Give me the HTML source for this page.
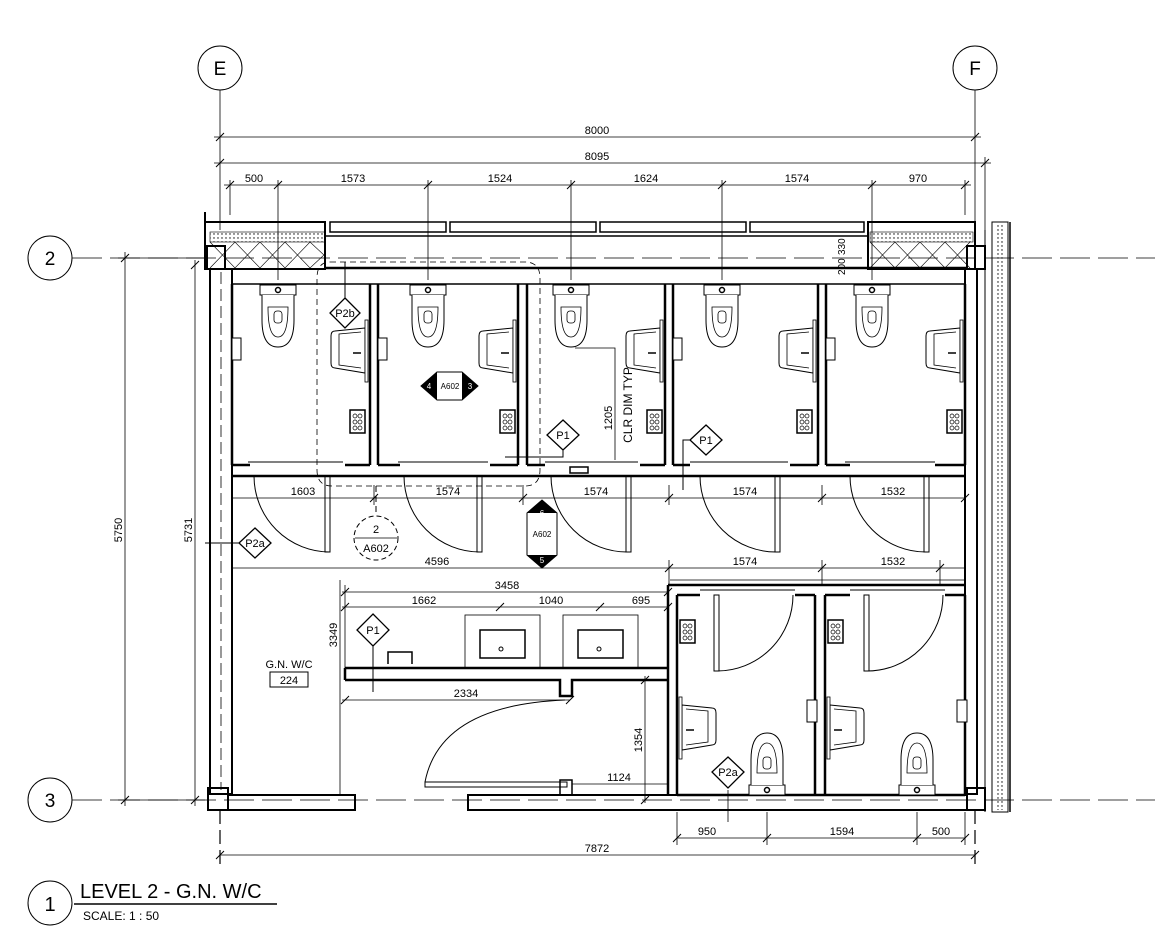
<!DOCTYPE html>
<html><head><meta charset="utf-8"><style>
html,body{margin:0;padding:0;background:#fff}
svg{display:block}
text{font-family:"Liberation Sans",sans-serif;fill:#000}
</style></head><body>
<svg width="1155" height="940" viewBox="0 0 1155 940" xmlns="http://www.w3.org/2000/svg">
<defs>
<pattern id="dots" width="4" height="4" patternUnits="userSpaceOnUse"><circle cx="2" cy="2" r="0.7" fill="#000"/></pattern>
<g id="wc">
 <rect x="-18" y="0" width="36" height="10" fill="#fff" stroke="#000"/>
 <path d="M-16 10 L-16 35 Q-16 62 0 62 Q16 62 16 35 L16 10" fill="#fff" stroke="#000"/>
 <path d="M-10 22 Q-10 52 0 52 Q10 52 10 22 Z" fill="none" stroke="#000" stroke-width="0.8"/>
 <rect x="-4" y="26" width="8" height="12" rx="3" fill="none" stroke="#000" stroke-width="0.8"/>
 <circle cx="0" cy="5" r="2.5" fill="none" stroke="#000" stroke-width="1.5"/>
</g>
<g id="basin">
 <path d="M0 0 L-30 3 Q-34 3 -34 8 L-34 35 Q-34 40 -30 40 L0 45 Z" fill="#fff" stroke="#000"/>
 <path d="M-4 4 L-26 6 L-26 37 L-4 40" fill="none" stroke="#000" stroke-width="0.8"/>
 <rect x="0" y="-8" width="3" height="62" fill="#fff" stroke="#000" stroke-width="0.8"/>
 <line x1="-12" y1="25" x2="-4" y2="25" stroke="#000" stroke-width="1.5"/>
</g>
<g id="disp">
 <rect x="0" y="0" width="15" height="23" fill="#fff" stroke="#000" stroke-width="1.5"/>
 <circle cx="5" cy="6" r="2" fill="none" stroke="#000" stroke-width="0.7"/><circle cx="10" cy="6" r="2" fill="none" stroke="#000" stroke-width="0.7"/>
 <circle cx="5" cy="12" r="2" fill="none" stroke="#000" stroke-width="0.7"/><circle cx="10" cy="12" r="2" fill="none" stroke="#000" stroke-width="0.7"/>
 <circle cx="5" cy="18" r="2" fill="none" stroke="#000" stroke-width="0.7"/><circle cx="10" cy="18" r="2" fill="none" stroke="#000" stroke-width="0.7"/>
</g>
<g id="tk"><line x1="-4" y1="4" x2="4" y2="-4" stroke="#000"/></g>
</defs>

<g fill="none" stroke="#000">
<circle cx="220" cy="68" r="22"/><circle cx="975" cy="68" r="22"/>
<circle cx="50" cy="258" r="22"/><circle cx="50" cy="800" r="22"/>
<line x1="220" y1="90" x2="220" y2="230" stroke-width="0.8"/>
<line x1="975" y1="90" x2="975" y2="230" stroke-width="0.8"/>
<line x1="220" y1="810" x2="220" y2="870" stroke-width="1.2" stroke-dasharray="14,6"/>
<line x1="975" y1="810" x2="975" y2="870" stroke-width="1.2" stroke-dasharray="14,6"/>
<line x1="72" y1="258" x2="1155" y2="258" stroke-width="0.8" stroke-dasharray="30,8"/>
<line x1="72" y1="800" x2="1155" y2="800" stroke-width="0.8" stroke-dasharray="30,8"/>

<g stroke-width="0.8">
<line x1="214" y1="137" x2="981" y2="137"/>
<line x1="214" y1="163" x2="991" y2="163"/>
<line x1="224" y1="185" x2="971" y2="185"/>
<line x1="230" y1="180" x2="230" y2="215"/><line x1="278" y1="180" x2="278" y2="280"/>
<line x1="428" y1="180" x2="428" y2="280"/><line x1="571" y1="180" x2="571" y2="280"/>
<line x1="722" y1="180" x2="722" y2="280"/><line x1="872" y1="180" x2="872" y2="280"/>
<line x1="965" y1="180" x2="965" y2="215"/><line x1="985" y1="157" x2="985" y2="260"/>
</g>
<use href="#tk" x="220" y="137"/><use href="#tk" x="975" y="137"/>
<use href="#tk" x="220" y="163"/><use href="#tk" x="985" y="163"/>
<use href="#tk" x="230" y="185"/><use href="#tk" x="278" y="185"/><use href="#tk" x="428" y="185"/><use href="#tk" x="571" y="185"/><use href="#tk" x="722" y="185"/><use href="#tk" x="872" y="185"/><use href="#tk" x="965" y="185"/>

<g stroke-width="0.8">
<line x1="125" y1="252" x2="125" y2="806"/>
<line x1="195" y1="260" x2="195" y2="806"/>
<line x1="118" y1="258" x2="205" y2="258"/>
<line x1="118" y1="800" x2="205" y2="800"/>
</g>
<use href="#tk" x="125" y="258"/><use href="#tk" x="125" y="800"/><use href="#tk" x="195" y="265"/><use href="#tk" x="195" y="800"/>

<rect x="205" y="222" width="120" height="47" stroke-width="2"/>
<rect x="210" y="232" width="115" height="10" fill="url(#dots)" stroke-width="0.6"/>
<path d="M210 242 L235 268 L260 242 L285 268 L310 242 L325 256 M210 268 L235 242 L260 268 L285 242 L310 268 L325 254" stroke-width="0.6"/>
<rect x="207" y="246" width="18" height="23" stroke-width="2"/>
<rect x="868" y="222" width="107" height="47" stroke-width="2"/>
<rect x="870" y="232" width="103" height="10" fill="url(#dots)" stroke-width="0.6"/>
<path d="M870 242 L895 268 L920 242 L945 268 L970 242 M870 268 L895 242 L920 268 L945 242 L970 268" stroke-width="0.6"/>
<rect x="967" y="246" width="18" height="23" stroke-width="2"/>
<g stroke-width="1.5">
<rect x="330" y="222" width="116" height="10"/><rect x="450" y="222" width="146" height="10"/>
<rect x="600" y="222" width="146" height="10"/><rect x="750" y="222" width="114" height="10"/>
</g>
<line x1="325" y1="236" x2="868" y2="236" stroke-width="1.5"/>
<line x1="325" y1="268" x2="967" y2="268" stroke-width="2.5"/>
<line x1="232" y1="284" x2="965" y2="284" stroke-width="1.5"/>
<line x1="205" y1="212" x2="205" y2="269" stroke-width="2"/>

<rect x="210" y="269" width="22" height="525" stroke-width="2"/>
<line x1="221" y1="272" x2="221" y2="790" stroke-width="0.8" stroke-dasharray="12,5"/>
<rect x="208" y="788" width="20" height="22" stroke-width="2"/>
<rect x="965" y="269" width="12" height="525" stroke-width="2"/>
<line x1="985" y1="230" x2="985" y2="812" stroke-width="1"/>
<rect x="992" y="222" width="16" height="590" stroke-width="1"/>
<rect x="995" y="224" width="10" height="586" fill="url(#dots)" stroke="none"/>
<line x1="1010" y1="222" x2="1010" y2="812" stroke-width="1.5"/>
<rect x="967" y="788" width="18" height="22" stroke-width="2"/>
<rect x="228" y="795" width="127" height="15" stroke-width="2"/>
<rect x="468" y="795" width="499" height="15" stroke-width="2"/>

<g stroke-width="2.5">
<line x1="232" y1="284" x2="232" y2="465"/>
<path d="M370 284 V465 M378 284 V465"/>
<path d="M518 284 V465 M527 284 V465"/>
<path d="M665 284 V465 M673 284 V465"/>
<path d="M818 284 V465 M826 284 V465"/>
<line x1="965" y1="284" x2="965" y2="465"/>
<path d="M232 465 H250 M345 465 H370 M378 465 H400 M490 465 H518 M527 465 H545 M640 465 H665 M673 465 H690 M790 465 H818 M826 465 H850 M935 465 H965"/>
</g>
<line x1="232" y1="476" x2="965" y2="476" stroke-width="2.5"/>
<path d="M248 462 H343 M398 462 H488 M545 462 H638 M690 462 H788 M845 462 H935" stroke-width="1"/>
<g stroke-width="1">
<rect x="325" y="476" width="5" height="76"/><path d="M254 476 A76 76 0 0 0 330 552"/>
<rect x="477" y="476" width="5" height="76"/><path d="M404 476 A76 76 0 0 0 480 552"/>
<rect x="626" y="476" width="5" height="76"/><path d="M551 476 A76 76 0 0 0 628 552"/>
<rect x="775" y="476" width="5" height="76"/><path d="M700 476 A76 76 0 0 0 777 552"/>
<rect x="924" y="476" width="5" height="76"/><path d="M850 476 A76 76 0 0 0 926 552"/>
</g>
<rect x="570" y="467" width="18" height="6" stroke-width="1.5"/>
</g>

<use href="#wc" x="278" y="285"/><use href="#wc" x="428" y="285"/><use href="#wc" x="571" y="285"/><use href="#wc" x="722" y="285"/><use href="#wc" x="872" y="285"/>
<use href="#basin" x="365" y="328"/><use href="#basin" x="513" y="328"/><use href="#basin" x="660" y="328"/><use href="#basin" x="813" y="328"/><use href="#basin" x="960" y="328"/>
<use href="#disp" x="350" y="410"/><use href="#disp" x="500" y="410"/><use href="#disp" x="647" y="410"/><use href="#disp" x="797" y="410"/><use href="#disp" x="947" y="410"/>
<g fill="#fff" stroke="#000"><rect x="232" y="338" width="9" height="22"/><rect x="378" y="338" width="9" height="22"/><rect x="673" y="338" width="9" height="22"/><rect x="826" y="338" width="9" height="22"/></g>

<g fill="none" stroke="#000" stroke-width="0.8">
<line x1="232" y1="498" x2="965" y2="498"/>
<line x1="232" y1="568" x2="965" y2="568"/>
<line x1="670" y1="580" x2="965" y2="580"/>
<path d="M374 485 V505 M523 485 V505 M669 485 V505 M822 485 V505 M669 560 V585 M822 560 V585 M940 560 V585"/>
</g>
<use href="#tk" x="374" y="498"/><use href="#tk" x="523" y="498"/><use href="#tk" x="669" y="498"/><use href="#tk" x="822" y="498"/><use href="#tk" x="965" y="498"/>
<use href="#tk" x="669" y="568"/><use href="#tk" x="822" y="568"/><use href="#tk" x="940" y="568"/>

<path d="M330 262 H525 Q540 262 540 278 V470 Q540 486 525 486 H332 Q317 486 317 470 V278 Q317 262 330 262 Z" fill="none" stroke="#000" stroke-width="0.8" stroke-dasharray="6,4"/>
<circle cx="376" cy="538" r="22" fill="none" stroke="#000" stroke-dasharray="5,3"/>
<line x1="355" y1="538" x2="397" y2="538" stroke="#000" stroke-width="0.8"/>
<line x1="376" y1="486" x2="376" y2="516" stroke="#000" stroke-dasharray="6,4"/>

<g fill="none" stroke="#000">
<g stroke-width="2.5">
<path d="M668 585 V795 M677 595 V795 M815 595 V795 M825 595 V795 M965 595 V795"/>
<path d="M668 585 H965 M677 595 H700 M795 595 H815 M825 595 H850 M945 595 H965 M677 795 H965"/>
</g>
<path d="M700 590 H795 M850 590 H945" stroke-width="1"/>
<rect x="714" y="595" width="5" height="76" stroke-width="1"/><path d="M717 671 A76 76 0 0 0 793 595" stroke-width="1"/>
<rect x="864" y="595" width="5" height="76" stroke-width="1"/><path d="M867 671 A76 76 0 0 0 943 595" stroke-width="1"/>
<rect x="957" y="700" width="10" height="22" fill="#fff"/><rect x="807" y="700" width="10" height="22" fill="#fff"/>
</g>
<use href="#disp" x="680" y="620"/><use href="#disp" x="828" y="620"/>
<use href="#wc" transform="translate(767,795) scale(1,-1)"/><use href="#wc" transform="translate(917,795) scale(1,-1)"/>
<use href="#basin" transform="translate(682,705) scale(-1,1)"/><use href="#basin" transform="translate(830,705) scale(-1,1)"/>

<g fill="none" stroke="#000">
<path d="M345 668 H668 M345 680 H560 V696 H572 V680 H668 M345 668 V680" stroke-width="2.5"/>
<rect x="465" y="615" width="75" height="53" stroke-width="0.8"/><rect x="480" y="630" width="45" height="28" stroke-width="1.5"/>
<rect x="563" y="615" width="75" height="53" stroke-width="0.8"/><rect x="578" y="630" width="45" height="28" stroke-width="1.5"/>
<circle cx="501" cy="649" r="2"/><circle cx="599" cy="649" r="2"/>
<path d="M388 664 V652 H412 V664" stroke-width="1.5"/>
<path d="M425 787 H567 V782 H425 Z" stroke-width="1"/>
<path d="M565 700 Q440 705 425 782" stroke-width="1"/>
<rect x="560" y="780" width="12" height="15" stroke-width="1.5"/>
<g stroke-width="0.8">
<line x1="342" y1="592" x2="668" y2="592"/>
<line x1="342" y1="607" x2="668" y2="607"/>
<line x1="342" y1="700" x2="570" y2="700"/>
<line x1="345" y1="585" x2="345" y2="668"/>
<line x1="340" y1="580" x2="340" y2="795"/>
<line x1="572" y1="784" x2="668" y2="784"/>
<line x1="645" y1="676" x2="645" y2="803"/>
<line x1="220" y1="855" x2="975" y2="855"/>
<line x1="677" y1="838" x2="965" y2="838"/>
<path d="M677 812 V845 M767 812 V845 M917 812 V845 M965 812 V845"/>
<line x1="728" y1="790" x2="728" y2="822"/>
</g>
</g>
<use href="#tk" x="345" y="592"/><use href="#tk" x="668" y="592"/><use href="#tk" x="345" y="607"/><use href="#tk" x="500" y="607"/><use href="#tk" x="600" y="607"/><use href="#tk" x="668" y="607"/>
<use href="#tk" x="345" y="700"/><use href="#tk" x="570" y="700"/><use href="#tk" x="645" y="680"/><use href="#tk" x="645" y="800"/>
<use href="#tk" x="220" y="855"/><use href="#tk" x="975" y="855"/>
<use href="#tk" x="677" y="838"/><use href="#tk" x="767" y="838"/><use href="#tk" x="917" y="838"/><use href="#tk" x="965" y="838"/>

<g fill="#fff" stroke="#000" stroke-width="1.3">
<path d="M345 298 L360 313 L345 328 L330 313 Z"/>
<path d="M373 614 L389 630 L373 646 L357 630 Z"/>
<path d="M563 420 L579 435 L563 450 L547 435 Z"/>
<path d="M706 425 L722 440 L706 455 L690 440 Z"/>
<path d="M255 528 L271 543 L255 558 L239 543 Z"/>
<path d="M728 757 L744 772 L728 788 L712 772 Z"/>
</g>
<g fill="none" stroke="#000" stroke-width="1">
<path d="M345 262 V298"/><path d="M373 646 V692"/>
<path d="M563 450 V457 H505"/><path d="M690 440 H683 V490"/>
<path d="M205 543 H239"/>
<path d="M575 348 H615 V460" stroke-width="0.8"/>
</g>
<path d="M437 372 H462 L478 386 L462 400 H437 L421 386 Z" fill="#fff" stroke="#000"/>
<path d="M437 372 V400 L421 386 Z M462 372 V400 L478 386 Z" fill="#000"/>
<path d="M527 513 L542 500 L557 513 V555 L542 568 L527 555 Z" fill="#fff" stroke="#000"/>
<path d="M527 513 L542 500 L557 513 Z M527 555 L542 568 L557 555 Z" fill="#000"/>
<rect x="270" y="672" width="38" height="15" fill="none" stroke="#000"/>

<g font-size="13" text-anchor="middle">
<text x="220" y="75" font-size="19">E</text><text x="975" y="75" font-size="19">F</text>
<text x="50" y="265" font-size="19">2</text><text x="50" y="807" font-size="19">3</text>
</g>
<g font-size="11" text-anchor="middle">
<text x="597" y="134">8000</text><text x="597" y="160">8095</text>
<text x="254" y="182">500</text><text x="353" y="182">1573</text><text x="500" y="182">1524</text>
<text x="646" y="182">1624</text><text x="797" y="182">1574</text><text x="918" y="182">970</text>
<text x="303" y="495">1603</text><text x="448" y="495">1574</text><text x="596" y="495">1574</text>
<text x="745" y="495">1574</text><text x="893" y="495">1532</text>
<text x="437" y="565">4596</text><text x="745" y="565">1574</text><text x="893" y="565">1532</text>
<text x="507" y="589">3458</text><text x="424" y="604">1662</text><text x="551" y="604">1040</text><text x="641" y="604">695</text>
<text x="466" y="697">2334</text><text x="619" y="781">1124</text>
<text x="707" y="835">950</text><text x="842" y="835">1594</text><text x="941" y="835">500</text>
<text x="597" y="852">7872</text>
<text x="289" y="668">G.N. W/C</text><text x="289" y="684">224</text>
<text x="345" y="317">P2b</text><text x="373" y="634">P1</text><text x="563" y="439">P1</text>
<text x="706" y="444">P1</text><text x="255" y="547">P2a</text><text x="728" y="776">P2a</text>
<text x="376" y="533">2</text><text x="376" y="552">A602</text>
</g>
<g font-size="8" text-anchor="middle"><text x="450" y="389">A602</text><text x="542" y="537">A602</text>
<text x="429" y="389" style="fill:#fff">4</text><text x="470" y="389" style="fill:#fff">3</text>
<text x="542" y="516" style="fill:#fff">6</text><text x="542" y="563" style="fill:#fff">5</text></g>
<g font-size="11">
<text transform="translate(122,530) rotate(-90)" text-anchor="middle">5750</text>
<text transform="translate(192,530) rotate(-90)" text-anchor="middle">5731</text>
<text transform="translate(337,635) rotate(-90)" text-anchor="middle">3349</text>
<text transform="translate(642,740) rotate(-90)" text-anchor="middle">1354</text>
<text transform="translate(612,418) rotate(-90)" text-anchor="middle">1205</text>
<text transform="translate(632,405) rotate(-90)" text-anchor="middle" font-size="12">CLR DIM TYP</text>
<text transform="translate(845,275) rotate(-90)" font-size="10">200</text>
<text transform="translate(845,255) rotate(-90)" font-size="10">330</text>
</g>
<circle cx="50" cy="903" r="22" fill="none" stroke="#000"/>
<text x="50" y="911" font-size="20" text-anchor="middle">1</text>
<text x="80" y="898" font-size="20">LEVEL 2 - G.N. W/C</text>
<line x1="74" y1="904" x2="277" y2="904" stroke="#000" stroke-width="1.5"/>
<text x="83" y="920" font-size="12">SCALE:  1 : 50</text>
</svg>
</body></html>
